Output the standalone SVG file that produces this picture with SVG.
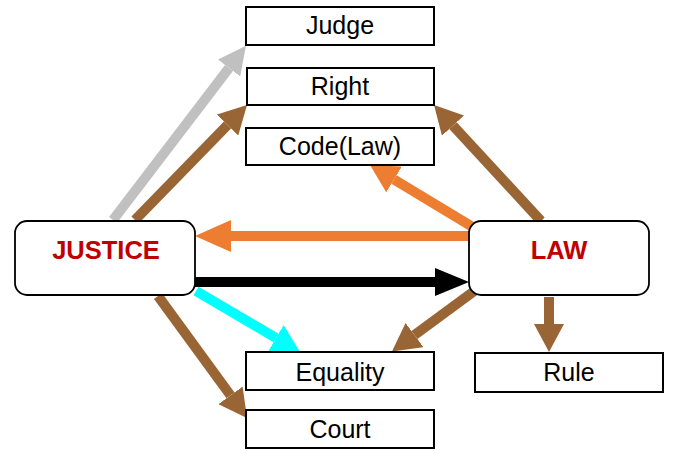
<svg xmlns="http://www.w3.org/2000/svg" width="673" height="451" viewBox="0 0 673 451">
<style>
.box{fill:#fff;stroke:#000;stroke-width:2}
.rbox{fill:#fff;stroke:#000;stroke-width:1.8}
.lbl{font-family:"Liberation Sans",Arial,sans-serif;font-size:25px;fill:#000;text-anchor:middle}
.big{font-family:"Liberation Sans",Arial,sans-serif;font-size:25.5px;font-weight:bold;fill:#c00000;text-anchor:middle}
.c{fill:none;stroke-width:10}
</style>
<defs>
<marker id="hGray" markerUnits="userSpaceOnUse" markerWidth="28" markerHeight="28" refX="0" refY="14" orient="auto"><path d="M0,0L28,14L0,28z" fill="#c0c0c0"/></marker>
<marker id="hBrown" markerUnits="userSpaceOnUse" markerWidth="28" markerHeight="30" refX="0" refY="15" orient="auto"><path d="M0,0L28,15L0,30z" fill="#9a6534"/></marker>
<marker id="hOrange" markerUnits="userSpaceOnUse" markerWidth="28" markerHeight="30" refX="0" refY="15" orient="auto"><path d="M0,0L28,15L0,30z" fill="#ed7d31"/></marker>
<marker id="hOrangeL" markerUnits="userSpaceOnUse" markerWidth="36" markerHeight="32" refX="0" refY="16" orient="auto"><path d="M0,0L36,16L0,32z" fill="#ed7d31"/></marker>
<marker id="hBlack" markerUnits="userSpaceOnUse" markerWidth="34" markerHeight="28" refX="0" refY="14" orient="auto"><path d="M0,0L34,14L0,28z" fill="#000"/></marker>
<marker id="hCyan" markerUnits="userSpaceOnUse" markerWidth="28" markerHeight="30" refX="0" refY="15" orient="auto"><path d="M0,0L28,15L0,30z" fill="#00ffff"/></marker>
</defs>
<g id="connectors">
<line class="c" x1="113" y1="220" x2="229" y2="68" stroke="#c0c0c0" marker-end="url(#hGray)"/>
<line class="c" x1="135" y1="220" x2="227.5" y2="125" stroke="#9a6534" marker-end="url(#hBrown)"/>
<line class="c" x1="541" y1="221" x2="453" y2="125.6" stroke="#9a6534" marker-end="url(#hBrown)"/>
<line class="c" x1="471" y1="226" x2="394" y2="179.5" stroke="#ed7d31" marker-end="url(#hOrange)"/>
<line class="c" x1="470" y1="236" x2="231" y2="236" stroke="#ed7d31" stroke-width="14" marker-end="url(#hOrangeL)"/>
<line class="c" x1="195" y1="282" x2="435" y2="282" stroke="#000" stroke-width="14" marker-end="url(#hBlack)"/>
<line class="c" x1="196" y1="291" x2="276" y2="338" stroke="#00ffff" marker-end="url(#hCyan)"/>
<line class="c" x1="477" y1="289" x2="414.5" y2="335" stroke="#9a6534" marker-end="url(#hBrown)"/>
<line class="c" x1="549" y1="297" x2="549" y2="324" stroke="#9a6534" marker-end="url(#hBrown)"/>
<line class="c" x1="158" y1="296" x2="230.5" y2="395.4" stroke="#9a6534" marker-end="url(#hBrown)"/>
</g>
<g id="judge"><rect class="box" x="246" y="7" width="188" height="38"/><text class="lbl" x="340" y="34">Judge</text></g>
<g id="right"><rect class="box" x="247" y="68" width="187" height="37"/><text class="lbl" x="340" y="95">Right</text></g>
<g id="code"><rect class="box" x="246" y="128" width="188" height="37"/><text class="lbl" x="340" y="155">Code(Law)</text></g>
<g id="justice"><rect class="rbox" x="15" y="221" width="180" height="74" rx="12"/><text class="big" x="106" y="259">JUSTICE</text></g>
<g id="law"><rect class="rbox" x="469" y="221" width="180" height="74" rx="12"/><text class="big" x="559" y="259">LAW</text></g>
<g id="equality"><rect class="box" x="246" y="352" width="188" height="38"/><text class="lbl" x="340" y="381">Equality</text></g>
<g id="rule"><rect class="box" x="475" y="353" width="188" height="39"/><text class="lbl" x="569" y="381">Rule</text></g>
<g id="court"><rect class="box" x="246" y="410" width="188" height="38"/><text class="lbl" x="340" y="438">Court</text></g>
</svg>
